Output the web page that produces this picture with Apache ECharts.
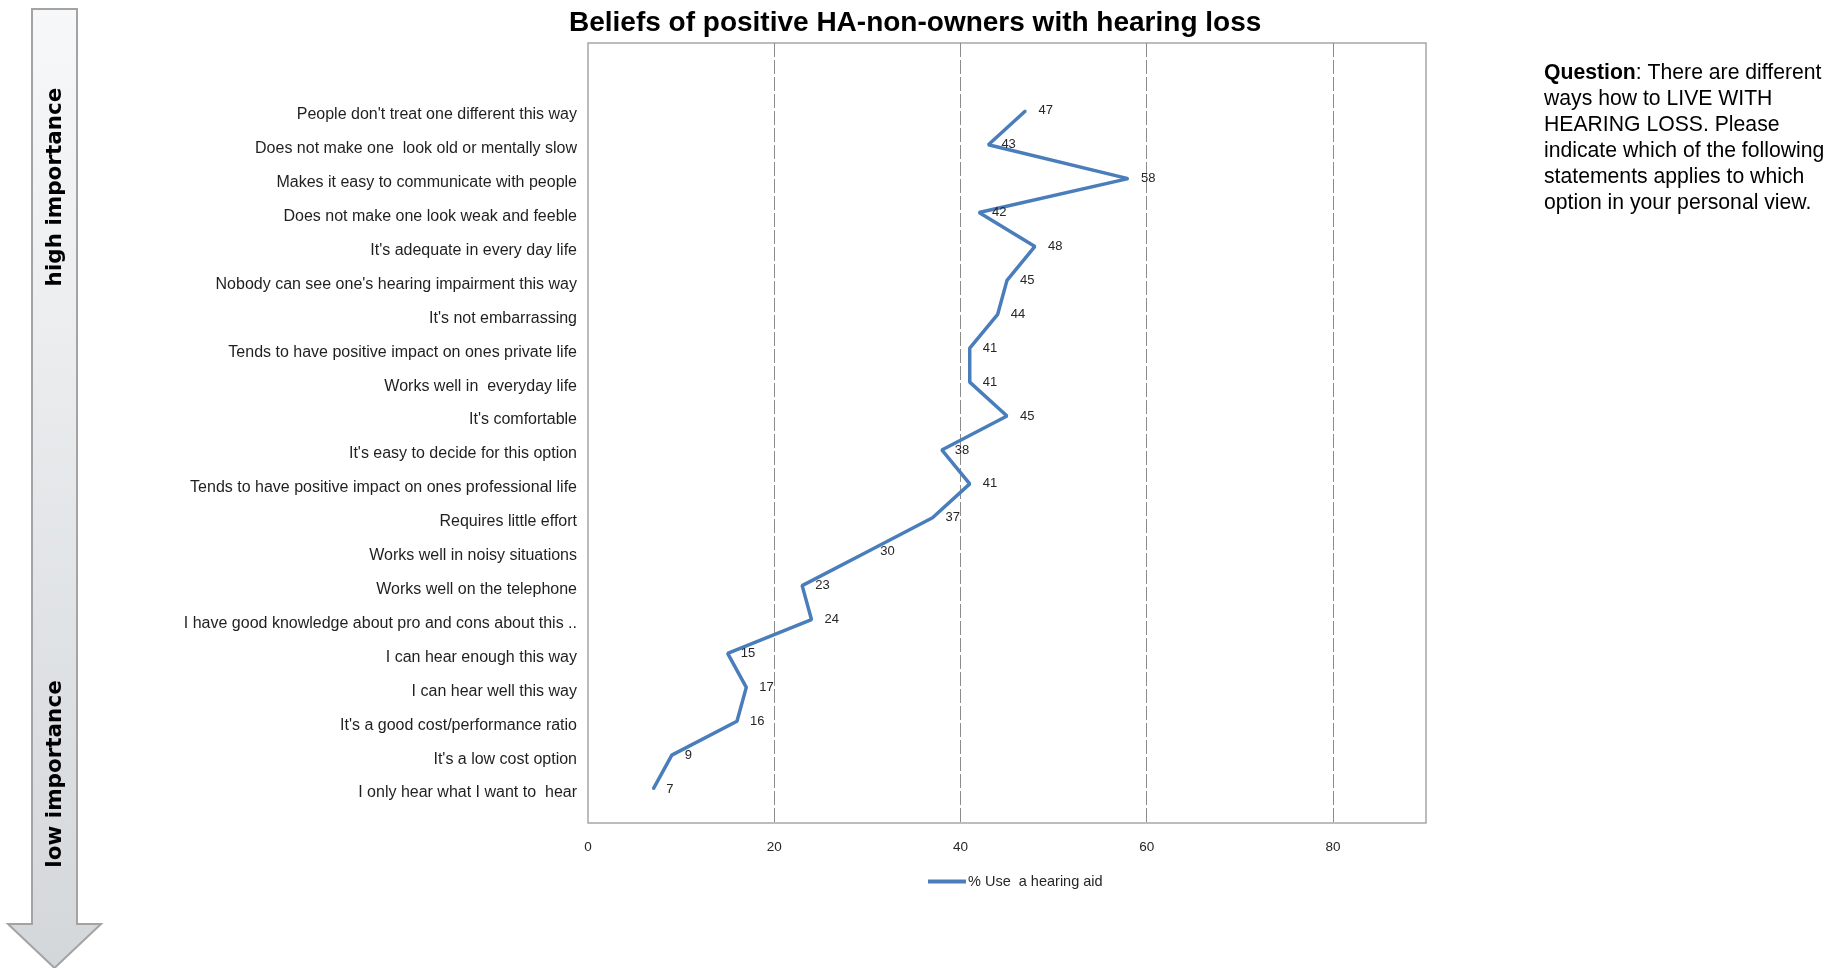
<!DOCTYPE html>
<html>
<head>
<meta charset="utf-8">
<script src="https://cdn.jsdelivr.net/npm/echarts@6/dist/echarts.min.js"></script>
<style>
html,body{margin:0;padding:0;background:#fff;}
#chart{width:1840px;height:968px;}
</style>
</head>
<body>
<div id="chart"></div>
<script>
// Categories listed top to bottom
const categories = [
  "People don't treat one different this way",
  "Does not make one  look old or mentally slow",
  "Makes it easy to communicate with people",
  "Does not make one look weak and feeble",
  "It's adequate in every day life",
  "Nobody can see one's hearing impairment this way",
  "It's not embarrassing",
  "Tends to have positive impact on ones private life",
  "Works well in  everyday life",
  "It's comfortable",
  "It's easy to decide for this option",
  "Tends to have positive impact on ones professional life",
  "Requires little effort",
  "Works well in noisy situations",
  "Works well on the telephone",
  "I have good knowledge about pro and cons about this ..",
  "I can hear enough this way",
  "I can hear well this way",
  "It's a good cost/performance ratio",
  "It's a low cost option",
  "I only hear what I want to  hear"
];
const useHearingAid = [47, 43, 58, 42, 48, 45, 44, 41, 41, 45, 38, 41, 37, 30, 23, 24, 15, 17, 16, 9, 7];
const xTicks = [0, 20, 40, 60, 80];
const seriesName = "% Use  a hearing aid";
const chartTitle = "Beliefs of positive HA-non-owners with hearing loss";

const n = categories.length;
// position of each category on the y value axis (top item highest)
const lineData = useHearingAid.map((v, i) => [v, n - 1 - i]);

const chart = echarts.init(document.getElementById('chart'), null, {renderer: 'canvas'});
const FONT = "'Liberation Sans', Arial, sans-serif";
const BLUE = '#4a7ebb';

chart.setOption({
  animation: false,
  backgroundColor: '#ffffff',
  title: {
    text: chartTitle,
    left: 564,
    top: 4,
    textStyle: {fontFamily: FONT, fontSize: 28, fontWeight: 'bold', color: '#000'}
  },
  legend: {
    data: [seriesName],
    left: 923,
    top: 869,
    icon: 'rect',
    itemWidth: 38,
    itemHeight: 4,
    itemStyle: {color: BLUE},
    textStyle: {fontFamily: FONT, fontSize: 14.5, color: '#262626', padding: [0, 0, 0, -3]}
  },
  grid: {
    left: 588, top: 43, width: 838, height: 780,
    show: true, borderColor: '#a6a6a6', borderWidth: 1.5, backgroundColor: '#fff'
  },
  xAxis: {
    type: 'value',
    min: xTicks[0],
    max: 90,
    interval: 20,
    axisLine: {show: false},
    axisTick: {show: false},
    axisLabel: {
      fontFamily: FONT, fontSize: 13.5, color: '#262626', margin: 17,
      showMaxLabel: false,
      formatter: v => xTicks.indexOf(v) >= 0 ? String(v) : ''
    },
    splitLine: {
      show: true, showMinLine: false, showMaxLine: false,
      lineStyle: {type: [14, 3], color: '#8c8c8c', width: 1}
    }
  },
  yAxis: {
    type: 'value',
    min: -1,
    max: n + 1,
    interval: 1,
    axisLine: {show: false},
    axisTick: {show: false},
    splitLine: {show: false},
    axisLabel: {
      fontFamily: FONT, fontSize: 16, color: '#1f1f1f', margin: 11,
      verticalAlign: 'top', lineHeight: 8,
      showMaxLabel: false,
      formatter: v => {
        const r = Math.round(v);
        if (Math.abs(v - r) > 1e-6 || r < 0 || r > n - 1) return '';
        return categories[n - 1 - r];
      }
    }
  },
  series: [{
    name: seriesName,
    type: 'line',
    data: lineData,
    symbol: 'circle',
    symbolSize: 2,
    lineStyle: {color: BLUE, width: 3.5},
    itemStyle: {color: BLUE},
    label: {
      show: true, position: 'right', distance: 12,
      fontFamily: FONT, fontSize: 13, color: '#262626',
      formatter: p => p.value[0]
    }
  }],
  graphic: [
    {
      type: 'polygon',
      shape: {points: [[32, 9], [77, 9], [77, 924], [101, 924], [54.5, 968], [8, 924], [32, 924]]},
      style: {
        fill: new echarts.graphic.LinearGradient(0, 0, 0, 1, [
          {offset: 0, color: '#f7f8f9'},
          {offset: 1, color: '#d3d7da'}
        ]),
        stroke: '#a3a3a3', lineWidth: 2
      }
    },
    {
      type: 'text', x: 55, y: 187, rotation: Math.PI / 2,
      style: {text: 'high importance', fontFamily: "'DejaVu Sans', sans-serif", fontWeight: 'bold', fontSize: 21.5,
        fill: '#000', align: 'center', verticalAlign: 'middle'}
    },
    {
      type: 'text', x: 55, y: 774, rotation: Math.PI / 2,
      style: {text: 'low importance', fontFamily: "'DejaVu Sans', sans-serif", fontWeight: 'bold', fontSize: 21.5,
        fill: '#000', align: 'center', verticalAlign: 'middle'}
    },
    {
      type: 'text', x: 1544, y: 60,
      style: {
        text: '{b|Question}: There are different\nways how to LIVE WITH\nHEARING LOSS. Please\nindicate which of the following\nstatements applies to which\noption in your personal view.',
        fontFamily: FONT, fontSize: 21.2, lineHeight: 26, fill: '#000',
        rich: {b: {fontFamily: FONT, fontSize: 21.2, lineHeight: 26, fontWeight: 'bold', fill: '#000'}}
      }
    }
  ]
});
</script>
</body>
</html>
